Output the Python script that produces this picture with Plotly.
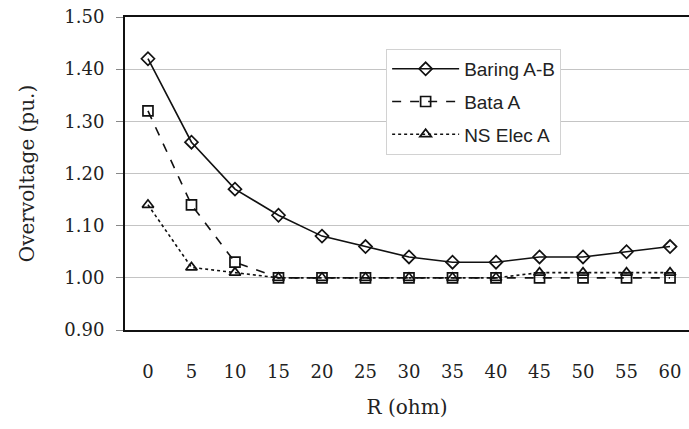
import plotly.graph_objects as go

r_ohm = [0, 5, 10, 15, 20, 25, 30, 35, 40, 45, 50, 55, 60]
baring_ab = [1.42, 1.26, 1.17, 1.12, 1.08, 1.06, 1.04, 1.03, 1.03, 1.04, 1.04, 1.05, 1.06]
bata_a = [1.32, 1.14, 1.03, 1.00, 1.00, 1.00, 1.00, 1.00, 1.00, 1.00, 1.00, 1.00, 1.00]
ns_elec_a = [1.14, 1.02, 1.01, 1.00, 1.00, 1.00, 1.00, 1.00, 1.00, 1.01, 1.01, 1.01, 1.01]
y_ticks = [0.90, 1.00, 1.10, 1.20, 1.30, 1.40, 1.50]

serif = "DejaVu Serif"
sans = "Liberation Sans"
ink = "#222222"

fig = go.Figure()
series = [
    ("Baring A-B", baring_ab, "solid", "diamond-open"),
    ("Bata A", bata_a, "dash", "square-open"),
    ("NS Elec A", ns_elec_a, "dot", "triangle-up-open"),
]
for i, (name, vals, dash, sym) in enumerate(series):
    fig.add_trace(go.Scatter(
        x=r_ohm, y=vals, name=name, mode="lines+markers",
        line=dict(color="#111111", width=1.6, dash=dash),
        marker=dict(symbol=sym, size=10, color="#111111", line=dict(width=1.7, color="#111111")),
        legendgroup=f"g{i}",
    ))

fig.update_layout(
    width=689, height=429,
    margin=dict(l=125, r=0, t=17, b=99),
    paper_bgcolor="white", plot_bgcolor="white",
    showlegend=True,
    legend=dict(
        x=0.463, y=0.898, xanchor="left", yanchor="top",
        bgcolor="white", bordercolor="#d2d2d2", borderwidth=1,
        font=dict(family=sans, size=19, color=ink),
        itemwidth=67, tracegroupgap=5,
    ),
    xaxis=dict(
        range=[-2.64, 62.18], tickvals=r_ohm, ticktext=[str(v) for v in r_ohm],
        showgrid=False, zeroline=False,
        showline=True, linecolor="#111111", linewidth=2, mirror=True,
        ticks="", ticklabelstandoff=24,
        tickfont=dict(family=serif, size=18, color=ink),
        title=dict(text="R (ohm)", font=dict(family=serif, size=20, color=ink), standoff=19),
    ),
    yaxis=dict(
        range=[0.9, 1.5], tickvals=y_ticks, ticktext=[f"{v:.2f}" for v in y_ticks],
        showgrid=True, gridcolor="#c4c4c4", gridwidth=1, zeroline=False,
        showline=True, linecolor="#111111", linewidth=2, mirror=False,
        ticks="outside", ticklen=7, tickcolor="#888888", ticklabelstandoff=8,
        tickfont=dict(family=serif, size=18, color=ink),
        title=dict(text="Overvoltage (pu.)", font=dict(family=serif, size=20, color=ink), standoff=24),
    ),
)

fig.write_html("out.html")
